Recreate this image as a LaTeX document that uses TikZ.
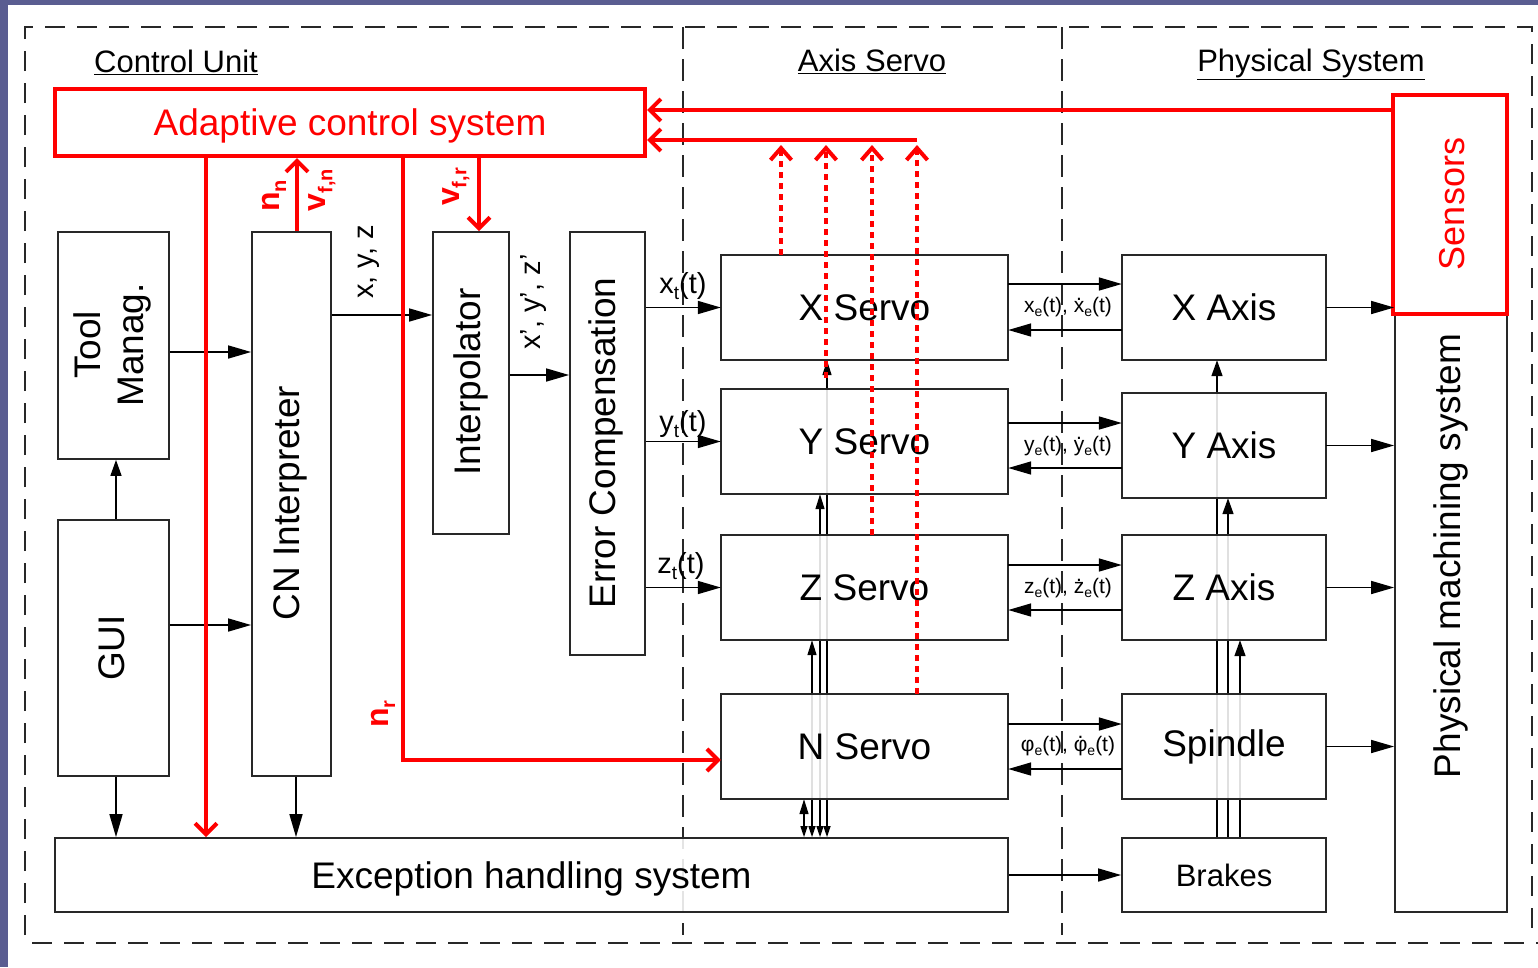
\documentclass[tikz,border=0pt]{standalone}
\usepackage{fontspec}
\setmainfont{Liberation Sans}
\usetikzlibrary{arrows.meta}
\definecolor{slate}{RGB}{90,93,145}
\definecolor{boxline}{RGB}{40,40,40}
\newcommand{\dotac}[2][0.58em]{\ooalign{#2\cr\hidewidth\raisebox{#1}{.}\hidewidth\cr}}
\newcommand{\sbs}[2]{\raisebox{-0.22em}{\fontsize{#1}{#1}\selectfont #2}}
\begin{document}
\begin{tikzpicture}[x=1pt,y=-1pt,
  frame/.style={draw=boxline, line width=1.6pt, dash pattern=on 20pt off 12pt},
  sep/.style={draw=boxline, line width=1.6pt, dash pattern=on 22pt off 10pt},
  box/.style={draw=boxline, line width=1.8pt, fill=white, fill opacity=0.88, text opacity=1, inner sep=0pt, font=\fontsize{37}{40}\selectfont},
  redbox/.style={draw=red, line width=4pt, fill=white, inner sep=0pt, text=red, font=\fontsize{37}{40}\selectfont},
  vtext/.style={rotate=90, inner sep=0pt, align=center, font=\fontsize{37}{43}\selectfont},
  title/.style={inner sep=0pt, anchor=base, font=\fontsize{31}{34}\selectfont},
  lbl/.style={inner sep=0pt, font=\fontsize{29}{32}\selectfont},
  slbl/.style={inner sep=0pt, font=\fontsize{21}{24}\selectfont},
  rlbl/.style={inner sep=0pt, rotate=90, text=red, font=\bfseries\fontsize{32}{34}\selectfont},
  arr/.style={draw=black, line width=1.6pt, -{Triangle[length=23pt,width=13pt]}},
  varr/.style={draw=black, line width=1.5pt, -{Triangle[length=16pt,width=11pt]}},
  sarr/.style={draw=black, line width=1.4pt, {Triangle[length=11pt,width=7pt]}-{Triangle[length=15pt,width=9pt]}},
  rarr/.style={draw=red, line width=4pt, -{Straight Barb[length=11pt,width=22pt]}},
  rdot/.style={draw=red, line width=4pt, dash pattern=on 6pt off 5pt, -{Straight Barb[length=12pt,width=21pt]}}
]
\useasboundingbox (0,0) rectangle (1538,967);
\fill[white] (0,0) rectangle (1538,967);
\fill[slate] (0,0) rectangle (1538,5);
\fill[slate] (0,0) rectangle (8,967);

% dashed frames
\draw[frame] (25,935) -- (25,27) -- (1532,27) -- (1532,935);
\draw[frame] (32,943) -- (1538,943);
\draw[sep] (683,27) -- (683,935);
\draw[sep] (1062,27) -- (1062,935);

% titles
\node[title] (t-cu) at (176,72) {\underline{Control Unit}};
\node[title] (t-as) at (872,71) {\underline{Axis Servo}};
\node[title] (t-ps) at (1311,71) {\underline{Physical System}};

% corner of the feedback line
\coordinate (fb) at (917,140);

% ---------- nodes ----------
\node[redbox, text depth=0pt, minimum width=590pt, minimum height=67pt] (acs) at (350,122.5) {Adaptive control system};
\node[box, minimum width=111pt, minimum height=227pt] (tool) at (113.5,345.5) {};
\node[vtext] (tool-t) at (112,345) {Tool\\Manag.};
\node[box, minimum width=111pt, minimum height=256pt] (gui) at (113.5,648) {};
\node[vtext] (gui-t) at (112,648) {GUI};
\node[box, minimum width=79pt, minimum height=544pt] (cn) at (291.5,504) {};
\node[vtext] (cn-t) at (290,503) {CN Interpreter};
\node[box, minimum width=76pt, minimum height=302pt] (interp) at (471,383) {};
\node[vtext] (interp-t) at (471,382) {Interpolator};
\node[box, minimum width=75pt, minimum height=423pt] (err) at (607.5,443.5) {};
\node[vtext] (err-t) at (606,443) {Error Compensation};

\node[box, text depth=0pt, minimum width=953pt, minimum height=74pt] (exc) at (531.5,875) {Exception handling system};
\node[box, minimum width=204pt, minimum height=74pt, font=\fontsize{31}{34}\selectfont] (br) at (1224,875) {Brakes};
\path (864.5,307.5) node[inner sep=0pt, minimum width=287pt, minimum height=105pt] (xs) {}
      (864.5,441.5) node[inner sep=0pt, minimum width=287pt, minimum height=105pt] (ys) {}
      (864.5,587.5) node[inner sep=0pt, minimum width=287pt, minimum height=105pt] (zs) {}
      (864.5,746.5) node[inner sep=0pt, minimum width=287pt, minimum height=105pt] (ns) {}
      (1224,307.5) node[inner sep=0pt, minimum width=204pt, minimum height=105pt] (xa) {}
      (1224,445.5) node[inner sep=0pt, minimum width=204pt, minimum height=105pt] (ya) {}
      (1224,587.5) node[inner sep=0pt, minimum width=204pt, minimum height=105pt] (za) {}
      (1224,746.5) node[inner sep=0pt, minimum width=204pt, minimum height=105pt] (sp) {};

% vertical lines that run behind the servo / axis boxes
\draw[sarr] (exc.north -| 827,0) -- (xs.south -| 827,0);
\draw[sarr] (exc.north -| 820,0) -- (ys.south -| 820,0);
\draw[sarr] (exc.north -| 812,0) -- (zs.south -| 812,0);
\draw[sarr] (exc.north -| 804,0) -- (ns.south -| 804,0);
\draw[varr] (br.north -| 1217,0) -- (xa.south -| 1217,0);
\draw[varr] (br.north -| 1228,0) -- (ya.south -| 1228,0);
\draw[varr] (br.north -| 1240,0) -- (za.south -| 1240,0);

\node[box, minimum width=287pt, minimum height=105pt] (xs-b) at (xs) {X Servo};
\node[box, minimum width=287pt, minimum height=105pt] (ys-b) at (ys) {Y Servo};
\node[box, minimum width=287pt, minimum height=105pt] (zs-b) at (zs) {Z Servo};
\node[box, minimum width=287pt, minimum height=105pt] (ns-b) at (ns) {N Servo};
\node[box, minimum width=204pt, minimum height=105pt] (xa-b) at (xa) {X Axis};
\node[box, minimum width=204pt, minimum height=105pt] (ya-b) at (ya) {Y Axis};
\node[box, minimum width=204pt, minimum height=105pt] (za-b) at (za) {Z Axis};
\node[box, minimum width=204pt, minimum height=105pt] (sp-b) at (sp) {Spindle};

\node[box, minimum width=112pt, minimum height=817pt] (pms) at (1451,503.5) {};
\node[vtext] (pms-t) at (1451,556) {Physical machining system};
\node[redbox, minimum width=114pt, minimum height=219pt] (sens) at (1450,204.5) {};
\node[vtext, text=red, font=\fontsize{36}{40}\selectfont] (sens-t) at (1452,204) {Sensors};

% ---------- black connectors ----------
\draw[arr] (tool.east |- 0,352) -- (cn.west |- 0,352);
\draw[arr] (gui.east |- 0,625) -- (cn.west |- 0,625);
\draw[varr] (gui.north -| 116,0) -- (tool.south -| 116,0);
\draw[arr] (gui.south -| 116,0) -- (exc.north -| 116,0);
\draw[arr] (cn.south -| 296,0) -- (exc.north -| 296,0);
\draw[arr] (cn.east |- 0,315) -- (interp.west |- 0,315);
\draw[arr] (interp.east |- 0,375) -- (err.west |- 0,375);
\draw[arr] (err.east |- xs.west) -- (xs.west);
\draw[arr] (err.east |- ys.west) -- (ys.west);
\draw[arr] (err.east |- zs.west) -- (zs.west);
\draw[arr] (xs.east |- 0,284) -- (xa.west |- 0,284);
\draw[arr] (xa.west |- 0,330) -- (xs.east |- 0,330);
\draw[arr] (ys.east |- 0,423) -- (ya.west |- 0,423);
\draw[arr] (ya.west |- 0,468) -- (ys.east |- 0,468);
\draw[arr] (zs.east |- 0,565) -- (za.west |- 0,565);
\draw[arr] (za.west |- 0,610) -- (zs.east |- 0,610);
\draw[arr] (ns.east |- 0,724) -- (sp.west |- 0,724);
\draw[arr] (sp.west |- 0,769) -- (ns.east |- 0,769);
\draw[arr] (exc.east |- br.west) -- (br.west);
\draw[arr] (xa.east) -- (pms.west |- xa.east);
\draw[arr] (ya.east) -- (pms.west |- ya.east);
\draw[arr] (za.east) -- (pms.west |- za.east);
\draw[arr] (sp.east) -- (pms.west |- sp.east);

% black labels
\node[lbl, rotate=90] (l-xyz) at (369,262) {x, y, z};
\node[lbl, rotate=90] (l-xyz2) at (534,302) {x', y', z'};
\node[lbl] (l-xt) at (683,286) {x\sbs{19}{t}(t)};
\node[lbl] (l-yt) at (683,424) {y\sbs{19}{t}(t)};
\node[lbl] (l-zt) at (681,566) {z\sbs{19}{t}(t)};
\node[slbl] (l-xe) at (1068,307) {x\sbs{14}{e}(t), \dotac{x}\sbs{14}{e}(t)};
\node[slbl] (l-ye) at (1068,446) {y\sbs{14}{e}(t), \dotac{y}\sbs{14}{e}(t)};
\node[slbl] (l-ze) at (1068,588) {z\sbs{14}{e}(t), \dotac{z}\sbs{14}{e}(t)};
\node[slbl] (l-pe) at (1068,746) {φ\sbs{14}{e}(t), \dotac[0.62em]{φ}\sbs{14}{e}(t)};

% ---------- red connectors ----------
\draw[rarr] (sens.west |- 0,110) -- (acs.east |- 0,110);
\draw[rarr] (fb) -- (acs.east |- fb);
\draw[rdot] (xs.north -| 781,0) -- ([yshift=-5pt]781,0 |- fb);
\draw[rdot] ([yshift=11pt]ys.north -| 826,0) -- ([yshift=-5pt]826,0 |- fb);
\draw[rdot] (zs.north -| 872,0) -- ([yshift=-5pt]872,0 |- fb);
\draw[rdot] (ns.north -| 917,0) -- ([yshift=-5pt]fb);
\draw[rarr] (acs.south -| 206,0) -- (exc.north -| 206,0);
\draw[rarr] (cn.north -| 297,0) -- (acs.south -| 297,0);
\draw[rarr] (acs.south -| 479,0) -- (interp.north -| 479,0);
\draw[rarr] (acs.south -| 403,0) |- (ns.west |- 0,760);

% red labels
\node[rlbl] (l-nn) at (274,196) {n\sbs{20}{n}};
\node[rlbl] (l-vfn) at (322,190) {v\sbs{20}{f,n}};
\node[rlbl] (l-vfr) at (456,187) {v\sbs{20}{f,r}};
\node[rlbl] (l-nr) at (383,714) {n\sbs{20}{r}};
\end{tikzpicture}
\end{document}
